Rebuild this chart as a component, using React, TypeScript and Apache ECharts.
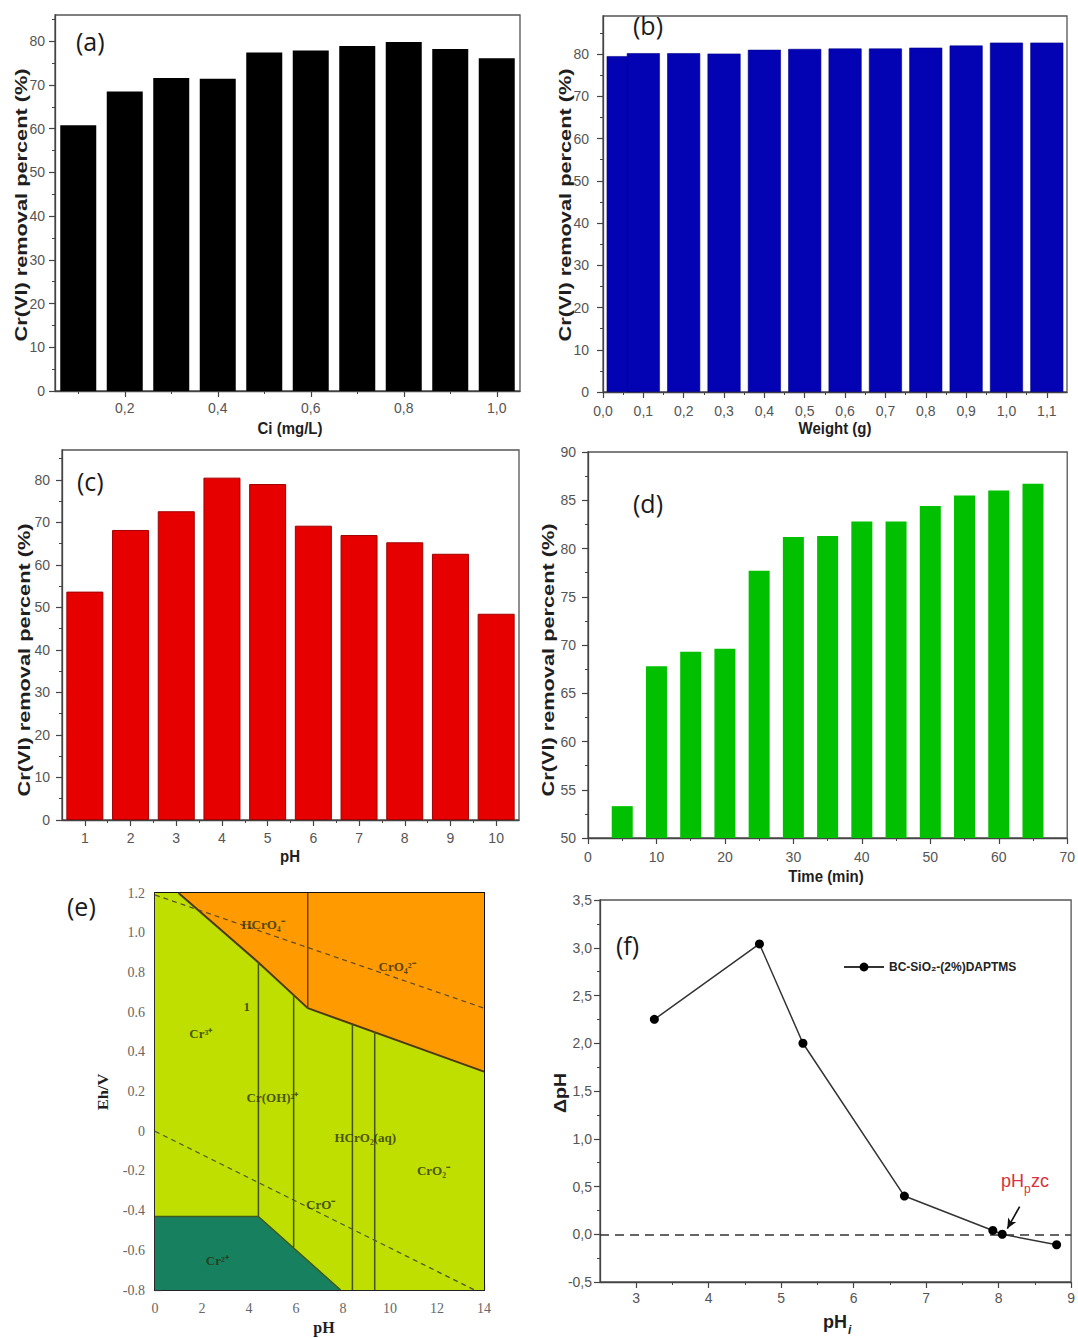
import React, { useEffect, useRef } from 'react';
import * as echarts from 'echarts';

const SANS = '"Liberation Sans", Arial, sans-serif';
const SERIF = '"Liberation Serif", "Times New Roman", serif';
const LABEL_FONT = '"Open Sans", "Noto Sans", sans-serif';

// (a) initial concentration
const ciConcentrations = [0.1, 0.2, 0.3, 0.4, 0.5, 0.6, 0.7, 0.8, 0.9, 1.0];
const ciRemoval = [60.8, 68.5, 71.6, 71.4, 77.4, 77.9, 78.9, 79.8, 78.2, 76.1];
const aXTicks = [0.2, 0.4, 0.6, 0.8, 1.0];
const aXMinor = [0.1, 0.3, 0.5, 0.7, 0.9];
const aYTicks = [0, 10, 20, 30, 40, 50, 60, 70, 80];
const aYMinor = [5, 15, 25, 35, 45, 55, 65, 75, 85];

// (b) adsorbent weight
const weights = [0.05, 0.1, 0.2, 0.3, 0.4, 0.5, 0.6, 0.7, 0.8, 0.9, 1.0, 1.1];
const weightRemoval = [79.5, 80.2, 80.2, 80.1, 81.0, 81.2, 81.3, 81.3, 81.5, 82.0, 82.7, 82.7];
const bXTicks = [0, 0.1, 0.2, 0.3, 0.4, 0.5, 0.6, 0.7, 0.8, 0.9, 1.0, 1.1];
const bXMinor = [0.05, 0.15, 0.25, 0.35, 0.45, 0.55, 0.65, 0.75, 0.85, 0.95, 1.05];
const bYTicks = [0, 10, 20, 30, 40, 50, 60, 70, 80];
const bYMinor = [5, 15, 25, 35, 45, 55, 65, 75, 85];

// (c) pH
const phValues = [1, 2, 3, 4, 5, 6, 7, 8, 9, 10];
const phRemoval = [53.7, 68.2, 72.6, 80.5, 79.0, 69.2, 67.0, 65.3, 62.6, 48.5];
const cXTicks = [1, 2, 3, 4, 5, 6, 7, 8, 9, 10];
const cXMinor = [1.5, 2.5, 3.5, 4.5, 5.5, 6.5, 7.5, 8.5, 9.5];
const cYTicks = [0, 10, 20, 30, 40, 50, 60, 70, 80];
const cYMinor = [5, 15, 25, 35, 45, 55, 65, 75, 85];

// (d) contact time
const times = [5, 10, 15, 20, 25, 30, 35, 40, 45, 50, 55, 60, 65];
const timeRemoval = [53.3, 67.8, 69.3, 69.6, 77.7, 81.2, 81.3, 82.8, 82.8, 84.4, 85.5, 86.0, 86.7];
const dXTicks = [0, 10, 20, 30, 40, 50, 60, 70];
const dXMinor = [5, 15, 25, 35, 45, 55, 65];
const dYTicks = [50, 55, 60, 65, 70, 75, 80, 85, 90];
const dYMinor = [52.5, 57.5, 62.5, 67.5, 72.5, 77.5, 82.5, 87.5];

// (e) Eh-pH diagram
const eGreenRegion = [[0, -0.8], [14, -0.8], [14, 1.2], [0, 1.2]];
const eOrangeRegion = [[1.0, 1.2], [14, 1.2], [14, 0.3], [6.5, 0.62], [4.4, 0.85]];
const eCr2Region = [[0, -0.8], [0, -0.43], [4.4, -0.43], [7.9, -0.8]];
const eOrangeBoundary = [[1.0, 1.2], [4.4, 0.85], [6.5, 0.62], [14, 0.3]];
const eLine65 = [[6.5, 0.62], [6.5, 1.2]];
const eLine44 = [[4.4, 0.85], [4.4, -0.43]];
const eLine59 = [[5.9, 0.69], [5.9, -0.585]];
const eLine84 = [[8.4, 0.54], [8.4, -0.8]];
const eLine935 = [[9.35, 0.5], [9.35, -0.8]];
const eCr2Boundary = [[0, -0.43], [4.4, -0.43], [7.9, -0.8]];
const eDashUpper = [[0, 1.19], [14, 0.62]];
const eDashLower = [[0, 0.0], [13.6, -0.8]];
const eSpecies = ['HCrO₄⁻', 'CrO₄²⁻', '1', 'Cr³⁺', 'Cr(OH)²⁺', 'HCrO₂(aq)', 'CrO₂⁻', 'CrO⁻', 'Cr²⁺'];
const eSpeciesPos = [[4.6, 1.04], [10.3, 0.83], [3.9, 0.63], [1.95, 0.49], [5.0, 0.17], [8.95, -0.03], [11.85, -0.2], [7.05, -0.37], [2.65, -0.65]];
const eXTicks = [0, 2, 4, 6, 8, 10, 12, 14];
const eXMinor = [1, 3, 5, 7, 9, 11, 13];
const eYTicks = [-0.8, -0.6, -0.4, -0.2, 0, 0.2, 0.4, 0.6, 0.8, 1.0, 1.2];
const eYMinor = [-0.7, -0.5, -0.3, -0.1, 0.1, 0.3, 0.5, 0.7, 0.9, 1.1];

// (f) point of zero charge
const fSeriesName = 'BC-SiO₂-(2%)DAPTMS';
const fPhi = [3.25, 4.7, 5.3, 6.7, 7.92, 8.05, 8.8];
const fDelta = [2.25, 3.04, 2.0, 0.4, 0.04, 0.0, -0.11];
const fArrowFrom = [8.29, 0.29];
const fArrowTo = [8.12, 0.06];
const fXTicks = [3, 4, 5, 6, 7, 8, 9];
const fXMinor = [3.5, 4.5, 5.5, 6.5, 7.5, 8.5];
const fYTicks = [-0.5, 0, 0.5, 1.0, 1.5, 2.0, 2.5, 3.0, 3.5];
const fYMinor = [-0.25, 0.25, 0.75, 1.25, 1.75, 2.25, 2.75, 3.25];

const comma = (d: number) => (v: number) => v.toFixed(d).replace('.', ',');
const intFmt = (v: number) => String(Math.round(v));
const eYFmt = (v: number) => (Math.abs(v) < 1e-9 ? '0' : v.toFixed(1));

type AxisSpec = {
  min: number; max: number; ticks: number[]; minor: number[];
  fmt: (v: number) => string; margin: number; inside?: boolean;
  font?: string; color?: string; fontSize?: number; lineColor?: string; lineWidth?: number;
};

function axisPair(dim: 'x' | 'y', gridIndex: number, s: AxisSpec) {
  const lc = s.lineColor || '#444';
  const common: any = {
    type: 'value', gridIndex, min: s.min, max: s.max,
    position: dim === 'x' ? 'bottom' : 'left',
    splitLine: { show: false }, minorTick: { show: false }, minorSplitLine: { show: false },
  };
  const main = {
    ...common,
    axisLine: { show: true, onZero: false, lineStyle: { color: lc, width: s.lineWidth || 1.3 } },
    axisTick: { show: true, inside: !!s.inside, length: 6, customValues: s.ticks, lineStyle: { color: lc, width: 1.2 } },
    axisLabel: {
      show: true, customValues: s.ticks, formatter: s.fmt, margin: s.margin,
      fontSize: s.fontSize || 14, color: s.color || '#555', fontFamily: s.font || SANS,
      showMinLabel: true, showMaxLabel: true,
    },
  };
  const minor = {
    ...common,
    axisLine: { show: false, onZero: false },
    axisTick: { show: true, inside: !!s.inside, length: 3, customValues: s.minor, lineStyle: { color: lc, width: 1 } },
    axisLabel: { show: false },
  };
  return [main, minor];
}

export default function App() {
  const ref = useRef<HTMLDivElement>(null);

  useEffect(() => {
    if (!ref.current) return;
    const chart = echarts.init(ref.current, undefined, { renderer: 'svg' });

    const gridBox = { show: true, borderColor: '#555', borderWidth: 1.3, backgroundColor: 'transparent' };
    const grids: any[] = [
      { ...gridBox, left: 55, top: 15, width: 465, height: 376 },
      { ...gridBox, left: 603, top: 16, width: 464, height: 376 },
      { ...gridBox, left: 62, top: 450, width: 457, height: 370 },
      { ...gridBox, left: 588, top: 452, width: 481, height: 386 },
      { ...gridBox, left: 155, top: 893, width: 329, height: 397, borderColor: '#111', borderWidth: 2 },
      { ...gridBox, left: 600, top: 900, width: 472, height: 382 },
    ];

    const xAxes: any[] = [
      ...axisPair('x', 0, { min: 0.05, max: 1.05, ticks: aXTicks, minor: aXMinor, fmt: comma(1), margin: 10 }),
      ...axisPair('x', 1, { min: 0, max: 1.15, ticks: bXTicks, minor: bXMinor, fmt: comma(1), margin: 12 }),
      ...axisPair('x', 2, { min: 0.5, max: 10.5, ticks: cXTicks, minor: cXMinor, fmt: intFmt, margin: 11 }),
      ...axisPair('x', 3, { min: 0, max: 70, ticks: dXTicks, minor: dXMinor, fmt: intFmt, margin: 12 }),
      ...axisPair('x', 4, { min: 0, max: 14, ticks: eXTicks, minor: eXMinor, fmt: intFmt, margin: 11, inside: true, font: SERIF, color: '#666', fontSize: 14, lineColor: '#222', lineWidth: 2 }),
      ...axisPair('x', 5, { min: 2.5, max: 9, ticks: fXTicks, minor: fXMinor, fmt: intFmt, margin: 9 }),
    ];
    const yAxes: any[] = [
      ...axisPair('y', 0, { min: 0, max: 86, ticks: aYTicks, minor: aYMinor, fmt: intFmt, margin: 10 }),
      ...axisPair('y', 1, { min: 0, max: 89, ticks: bYTicks, minor: bYMinor, fmt: intFmt, margin: 14 }),
      ...axisPair('y', 2, { min: 0, max: 87, ticks: cYTicks, minor: cYMinor, fmt: intFmt, margin: 12 }),
      ...axisPair('y', 3, { min: 50, max: 90, ticks: dYTicks, minor: dYMinor, fmt: intFmt, margin: 12 }),
      ...axisPair('y', 4, { min: -0.8, max: 1.2, ticks: eYTicks, minor: eYMinor, fmt: eYFmt, margin: 10, inside: true, font: SERIF, color: '#666', fontSize: 14, lineColor: '#333', lineWidth: 1.5 }),
      ...axisPair('y', 5, { min: -0.5, max: 3.5, ticks: fYTicks, minor: fYMinor, fmt: comma(1), margin: 8 }),
    ];

    const ax = (p: number) => ({ xAxisIndex: 2 * p, yAxisIndex: 2 * p });

    const eRegions = [eGreenRegion, eOrangeRegion, eCr2Region];
    const eRegionColors = ['#bedf00', '#ff9a00', '#17805f'];
    const eLineDefs: { pts: number[][]; color: string; width: number; dashed?: boolean }[] = [
      { pts: eOrangeBoundary, color: '#4d3a12', width: 2 },
      { pts: eLine65, color: '#6b4510', width: 1.5 },
      { pts: eLine44, color: '#46531a', width: 1.5 },
      { pts: eLine59, color: '#46531a', width: 1.5 },
      { pts: eLine84, color: '#46531a', width: 1.5 },
      { pts: eLine935, color: '#46531a', width: 1.5 },
      { pts: eCr2Boundary, color: '#3f5a1a', width: 1.5 },
      { pts: eDashUpper, color: '#5a4a30', width: 1.2, dashed: true },
      { pts: eDashLower, color: '#4a5530', width: 1.2, dashed: true },
    ];

    const series: any[] = [
      {
        type: 'bar', ...ax(0), barWidth: 36,
        data: ciConcentrations.map((x, i) => [x, ciRemoval[i]]),
        itemStyle: { color: '#000000' },
      },
      {
        type: 'bar', ...ax(1), barWidth: 33,
        data: weights.map((x, i) => [x, weightRemoval[i]]),
        itemStyle: { color: '#0303b4', borderColor: '#02028a', borderWidth: 0.6 },
      },
      {
        type: 'bar', ...ax(2), barWidth: 37,
        data: phValues.map((x, i) => [x, phRemoval[i]]),
        itemStyle: { color: '#e60000', borderColor: '#a00000', borderWidth: 1 },
      },
      {
        type: 'bar', ...ax(3), barWidth: 21,
        data: times.map((x, i) => [x, timeRemoval[i]]),
        itemStyle: { color: '#00c000' },
      },
      {
        type: 'custom', ...ax(4), silent: true, z: 1, clip: true,
        data: eRegions.map((_, i) => [i, 0]),
        renderItem: (params: any, api: any) => ({
          type: 'polygon',
          shape: { points: eRegions[params.dataIndex].map((p) => api.coord(p)) },
          style: { fill: eRegionColors[params.dataIndex] },
        }),
      },
      ...eLineDefs.map((l) => ({
        type: 'line', ...ax(4), silent: true, z: 3, symbol: 'none',
        data: l.pts,
        lineStyle: { color: l.color, width: l.width, type: l.dashed ? [5, 4] : 'solid' },
      })),
      {
        type: 'scatter', ...ax(4), silent: true, z: 4, symbolSize: 1,
        itemStyle: { color: 'rgba(0,0,0,0)' },
        data: eSpecies.map((n, i) => ({ name: n, value: eSpeciesPos[i] })),
        label: {
          show: true, position: 'inside', formatter: '{b}',
          fontFamily: SERIF, fontWeight: 'bold', fontSize: 13, color: '#2a3010',
        },
      },
      {
        name: fSeriesName, type: 'line', ...ax(5), z: 5,
        data: fPhi.map((x, i) => [x, fDelta[i]]),
        symbol: 'circle', symbolSize: 9,
        lineStyle: { color: '#333333', width: 1.5 },
        itemStyle: { color: '#000000' },
        markLine: {
          silent: true, symbol: 'none', label: { show: false },
          data: [
            { yAxis: 0, lineStyle: { type: [9, 6], color: '#333', width: 1.5 } },
            [
              { coord: fArrowFrom, symbol: 'none', lineStyle: { type: 'solid', color: '#111', width: 1.6 } },
              { coord: fArrowTo, symbol: 'arrow', symbolSize: [7, 10], lineStyle: { type: 'solid', color: '#111', width: 1.6 } },
            ],
          ],
        },
      },
    ];

    const panelLabels = [
      { t: '(a)', x: 76, y: 28 },
      { t: '(b)', x: 633, y: 12 },
      { t: '(c)', x: 77, y: 468 },
      { t: '(d)', x: 633, y: 490 },
      { t: '(e)', x: 67, y: 893 },
      { t: '(f)', x: 616, y: 932 },
    ];

    const yTitle = (t: string, x: number, y: number, sx: number, fam = SANS, fs = 16) => ({
      type: 'text', x, y, rotation: Math.PI / 2, scaleX: sx, silent: true,
      style: { text: t, fontSize: fs, fontWeight: 'bold', fontFamily: fam, fill: '#1e1e1e', align: 'center', verticalAlign: 'middle' },
    });
    const xTitle = (t: string, x: number, y: number, fam = SANS, fs = 15, sy = 1.15) => ({
      type: 'text', x, y, scaleY: sy, silent: true,
      style: { text: t, fontSize: fs, fontWeight: 'bold', fontFamily: fam, fill: '#1e1e1e', align: 'center', verticalAlign: 'middle' },
    });

    const graphic: any[] = [
      ...panelLabels.map((l) => ({
        type: 'text', x: l.x, y: l.y, silent: true,
        style: { text: l.t, fontSize: 25, fontFamily: LABEL_FONT, fill: '#1a1a1a', align: 'left', verticalAlign: 'top' },
      })),
      yTitle('Cr(VI) removal percent (%)', 22, 205, 1.36),
      yTitle('Cr(VI) removal percent (%)', 566, 205, 1.36),
      yTitle('Cr(VI) removal percent (%)', 25, 660, 1.36),
      yTitle('Cr(VI) removal percent (%)', 549, 660, 1.36),
      yTitle('Eh/V', 103, 1092, 1.1, SERIF, 15),
      yTitle('ΔpH', 560, 1093, 1.15, SANS, 17),
      xTitle('Ci (mg/L)', 290, 428),
      xTitle('Weight (g)', 835, 428),
      xTitle('pH', 290, 856),
      xTitle('Time (min)', 826, 876),
      xTitle('pH', 324, 1327, SERIF, 16, 1.1),
      {
        type: 'text', x: 823, y: 1313, silent: true,
        style: { text: 'pH', fontSize: 18, fontWeight: 'bold', fontFamily: SANS, fill: '#1e1e1e', align: 'left', verticalAlign: 'top' },
      },
      {
        type: 'text', x: 848, y: 1324, silent: true,
        style: { text: 'i', fontSize: 12, fontWeight: 'bold', fontStyle: 'italic', fontFamily: SANS, fill: '#1e1e1e', align: 'left', verticalAlign: 'top' },
      },
      {
        type: 'text', x: 1001, y: 1172, silent: true,
        style: { text: 'pH', fontSize: 18, fontFamily: SANS, fill: '#d8323c', align: 'left', verticalAlign: 'top' },
      },
      {
        type: 'text', x: 1024, y: 1183, silent: true,
        style: { text: 'p', fontSize: 12, fontFamily: SANS, fill: '#d8323c', align: 'left', verticalAlign: 'top' },
      },
      {
        type: 'text', x: 1031, y: 1172, silent: true,
        style: { text: 'zc', fontSize: 18, fontFamily: SANS, fill: '#d8323c', align: 'left', verticalAlign: 'top' },
      },
    ];

    chart.setOption({
      animation: false,
      backgroundColor: '#ffffff',
      grid: grids,
      xAxis: xAxes,
      yAxis: yAxes,
      legend: {
        show: true, data: [fSeriesName], left: 843, top: 961,
        itemWidth: 40, itemHeight: 11, padding: 0,
        textStyle: { fontSize: 12, fontWeight: 'bold', fontFamily: SANS, color: '#222' },
      },
      series,
      graphic,
    });

    return () => chart.dispose();
  }, []);

  return (
    <div
      ref={ref}
      style={{ position: 'absolute', left: 0, top: 0, width: 1078, height: 1338, background: '#fff' }}
    />
  );
}
